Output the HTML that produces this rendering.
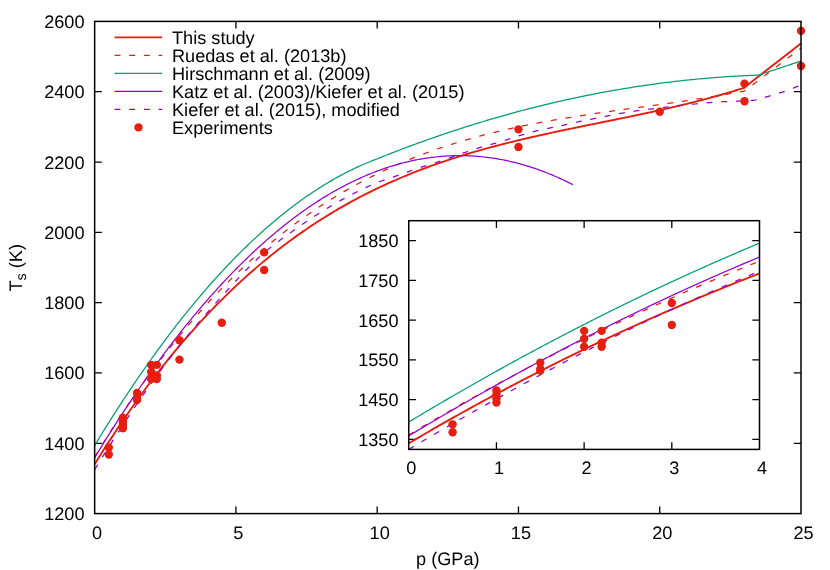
<!DOCTYPE html><html><head><meta charset="utf-8"><title>Solidus</title><style>html,body{margin:0;padding:0;background:#fff}svg{display:block;opacity:0.999;will-change:transform}text{text-rendering:geometricPrecision;font-family:"Liberation Sans",sans-serif;font-size:18.15px;fill:#000}</style></head><body>
<svg width="830" height="570" viewBox="0 0 830 570">
<rect width="830" height="570" fill="#fff"/>
<defs><clipPath id="cm"><rect x="94.65" y="21.40" width="706.35" height="492.20"/></clipPath>
<clipPath id="ci"><rect x="408.75" y="220.70" width="350.75" height="228.70"/></clipPath></defs>
<path d="M94.65,443.29 h7.2 M801.00,443.29 h-7.2 M94.65,372.97 h7.2 M801.00,372.97 h-7.2 M94.65,302.66 h7.2 M801.00,302.66 h-7.2 M94.65,232.34 h7.2 M801.00,232.34 h-7.2 M94.65,162.03 h7.2 M801.00,162.03 h-7.2 M94.65,91.71 h7.2 M801.00,91.71 h-7.2 M235.92,513.60 v-7.2 M235.92,21.40 v7.2 M377.19,513.60 v-7.2 M377.19,21.40 v7.2 M518.46,513.60 v-7.2 M518.46,21.40 v7.2 M659.73,513.60 v-7.2 M659.73,21.40 v7.2" stroke="#000" stroke-width="1.30" fill="none"/>
<text x="84.5" y="520.10" text-anchor="end">1200</text>
<text x="84.5" y="449.79" text-anchor="end">1400</text>
<text x="84.5" y="379.47" text-anchor="end">1600</text>
<text x="84.5" y="309.16" text-anchor="end">1800</text>
<text x="84.5" y="238.84" text-anchor="end">2000</text>
<text x="84.5" y="168.53" text-anchor="end">2200</text>
<text x="84.5" y="98.21" text-anchor="end">2400</text>
<text x="84.5" y="27.90" text-anchor="end">2600</text>
<text x="97.15" y="538.6" text-anchor="middle">0</text>
<text x="238.42" y="538.6" text-anchor="middle">5</text>
<text x="379.69" y="538.6" text-anchor="middle">10</text>
<text x="520.96" y="538.6" text-anchor="middle">15</text>
<text x="662.23" y="538.6" text-anchor="middle">20</text>
<text x="803.50" y="538.6" text-anchor="middle">25</text>
<text x="447.8" y="565.4" text-anchor="middle">p (GPa)</text>
<text transform="translate(21.9,267.8) rotate(-90)" text-anchor="middle">T<tspan font-size="14.4px" dy="4.4">s</tspan><tspan dy="-4.4"> (K)</tspan></text>
<g clip-path="url(#cm)" fill="none" stroke-linejoin="round">
<path d="M94.65,464.25 L96.42,461.38 L98.19,458.54 L99.96,455.71 L101.73,452.90 L103.50,450.11 L105.27,447.34 L107.04,444.58 L108.81,441.84 L110.58,439.11 L112.35,436.41 L114.12,433.72 L115.89,431.04 L117.66,428.39 L119.43,425.75 L121.20,423.13 L122.97,420.52 L124.75,417.93 L126.52,415.36 L128.29,412.81 L130.06,410.27 L131.83,407.74 L133.60,405.24 L135.37,402.75 L137.14,400.27 L138.91,397.81 L140.68,395.37 L142.45,392.94 L144.22,390.53 L145.99,388.14 L147.76,385.76 L149.53,383.40 L151.30,381.05 L153.07,378.72 L154.84,376.40 L156.61,374.10 L158.38,371.82 L160.15,369.55 L161.92,367.30 L163.69,365.06 L165.46,362.83 L167.23,360.62 L169.00,358.43 L170.77,356.25 L172.54,354.09 L174.31,351.94 L176.08,349.81 L177.85,347.69 L179.62,345.58 L181.39,343.49 L183.17,341.42 L184.94,339.36 L186.71,337.31 L188.48,335.28 L190.25,333.26 L192.02,331.26 L193.79,329.27 L195.56,327.29 L197.33,325.33 L199.10,323.39 L200.87,321.45 L202.64,319.54 L204.41,317.63 L206.18,315.74 L207.95,313.86 L209.72,312.00 L211.49,310.15 L213.26,308.31 L215.03,306.49 L216.80,304.68 L218.57,302.88 L220.34,301.10 L222.11,299.33 L223.88,297.57 L225.65,295.83 L227.42,294.10 L229.19,292.38 L230.96,290.67 L232.73,288.98 L234.50,287.30 L236.27,285.64 L238.04,283.98 L239.81,282.34 L241.58,280.71 L243.36,279.10 L245.13,277.49 L246.90,275.90 L248.67,274.32 L250.44,272.75 L252.21,271.20 L253.98,269.66 L255.75,268.13 L257.52,266.61 L259.29,265.10 L261.06,263.61 L262.83,262.12 L264.60,260.65 L266.37,259.19 L268.14,257.75 L269.91,256.31 L271.68,254.88 L273.45,253.47 L275.22,252.07 L276.99,250.68 L278.76,249.30 L280.53,247.93 L282.30,246.57 L284.07,245.23 L285.84,243.89 L287.61,242.57 L289.38,241.25 L291.15,239.95 L292.92,238.66 L294.69,237.38 L296.46,236.11 L298.23,234.85 L300.00,233.60 L301.78,232.36 L303.55,231.13 L305.32,229.91 L307.09,228.71 L308.86,227.51 L310.63,226.32 L312.40,225.14 L314.17,223.98 L315.94,222.82 L317.71,221.67 L319.48,220.53 L321.25,219.40 L323.02,218.29 L324.79,217.18 L326.56,216.08 L328.33,214.99 L330.10,213.91 L331.87,212.84 L333.64,211.78 L335.41,210.72 L337.18,209.68 L338.95,208.65 L340.72,207.62 L342.49,206.61 L344.26,205.60 L346.03,204.60 L347.80,203.61 L349.57,202.63 L351.34,201.66 L353.11,200.70 L354.88,199.74 L356.65,198.80 L358.42,197.86 L360.20,196.93 L361.97,196.01 L363.74,195.10 L365.51,194.20 L367.28,193.30 L369.05,192.41 L370.82,191.53 L372.59,190.66 L374.36,189.80 L376.13,188.94 L377.90,188.09 L379.67,187.25 L381.44,186.42 L383.21,185.60 L384.98,184.78 L386.75,183.97 L388.52,183.17 L390.29,182.37 L392.06,181.58 L393.83,180.80 L395.60,180.03 L397.37,179.26 L399.14,178.50 L400.91,177.75 L402.68,177.00 L404.45,176.27 L406.22,175.53 L407.99,174.81 L409.76,174.09 L411.53,173.38 L413.30,172.67 L415.07,171.98 L416.84,171.28 L418.62,170.60 L420.39,169.92 L422.16,169.24 L423.93,168.58 L425.70,167.92 L427.47,167.26 L429.24,166.61 L431.01,165.97 L432.78,165.33 L434.55,164.70 L436.32,164.08 L438.09,163.46 L439.86,162.84 L441.63,162.23 L443.40,161.63 L445.17,161.03 L446.94,160.44 L448.71,159.85 L450.48,159.27 L452.25,158.69 L454.02,158.12 L455.79,157.56 L457.56,157.00 L459.33,156.44 L461.10,155.89 L462.87,155.34 L464.64,154.80 L466.41,154.26 L468.18,153.73 L469.95,153.20 L471.72,152.68 L473.49,152.16 L475.26,151.64 L477.03,151.13 L478.81,150.63 L480.58,150.13 L482.35,149.63 L484.12,149.14 L485.89,148.65 L487.66,148.16 L489.43,147.68 L491.20,147.20 L492.97,146.73 L494.74,146.26 L496.51,145.79 L498.28,145.33 L500.05,144.87 L501.82,144.41 L503.59,143.96 L505.36,143.51 L507.13,143.07 L508.90,142.62 L510.67,142.18 L512.44,141.75 L514.21,141.31 L515.98,140.88 L517.75,140.46 L519.52,140.03 L521.29,139.61 L523.06,139.19 L524.83,138.77 L526.60,138.36 L528.37,137.95 L530.14,137.54 L531.91,137.13 L533.68,136.73 L535.45,136.33 L537.23,135.93 L539.00,135.53 L540.77,135.14 L542.54,134.74 L544.31,134.35 L546.08,133.96 L547.85,133.58 L549.62,133.19 L551.39,132.81 L553.16,132.43 L554.93,132.04 L556.70,131.67 L558.47,131.29 L560.24,130.91 L562.01,130.54 L563.78,130.16 L565.55,129.79 L567.32,129.42 L569.09,129.05 L570.86,128.68 L572.63,128.32 L574.40,127.95 L576.17,127.58 L577.94,127.22 L579.71,126.85 L581.48,126.49 L583.25,126.13 L585.02,125.77 L586.79,125.40 L588.56,125.04 L590.33,124.68 L592.10,124.32 L593.87,123.96 L595.65,123.60 L597.42,123.24 L599.19,122.88 L600.96,122.52 L602.73,122.16 L604.50,121.80 L606.27,121.44 L608.04,121.08 L609.81,120.72 L611.58,120.36 L613.35,120.00 L615.12,119.64 L616.89,119.27 L618.66,118.91 L620.43,118.55 L622.20,118.18 L623.97,117.82 L625.74,117.45 L627.51,117.08 L629.28,116.72 L631.05,116.35 L632.82,115.98 L634.59,115.61 L636.36,115.23 L638.13,114.86 L639.90,114.48 L641.67,114.11 L643.44,113.73 L645.21,113.35 L646.98,112.97 L648.75,112.59 L650.52,112.20 L652.29,111.82 L654.07,111.43 L655.84,111.04 L657.61,110.65 L659.38,110.25 L661.15,109.86 L662.92,109.46 L664.69,109.06 L666.46,108.66 L668.23,108.25 L670.00,107.84 L671.77,107.43 L673.54,107.02 L675.31,106.61 L677.08,106.19 L678.85,105.77 L680.62,105.35 L682.39,104.92 L684.16,104.49 L685.93,104.06 L687.70,103.63 L689.47,103.19 L691.24,102.75 L693.01,102.30 L694.78,101.86 L696.55,101.41 L698.32,100.95 L700.09,100.49 L701.86,100.03 L703.63,99.57 L705.40,99.10 L707.17,98.63 L708.94,98.15 L710.71,97.67 L712.48,97.19 L714.26,96.70 L716.03,96.21 L717.80,95.72 L719.57,95.22 L721.34,94.72 L723.11,94.21 L724.88,93.70 L726.65,93.18 L728.42,92.66 L730.19,92.13 L731.96,91.60 L733.73,91.07 L735.50,90.53 L737.27,89.99 L739.04,89.44 L740.81,88.89 L742.58,88.33 L744.35,87.76 L744.49,87.32 L746.12,86.05 L747.89,84.68 L749.66,83.30 L751.43,81.92 L753.20,80.55 L754.97,79.17 L756.74,77.79 L758.51,76.42 L760.28,75.04 L762.05,73.66 L763.82,72.29 L765.59,70.91 L767.36,69.53 L769.13,68.16 L770.90,66.78 L772.68,65.40 L774.45,64.02 L776.22,62.65 L777.99,61.27 L779.76,59.89 L781.53,58.52 L783.30,57.14 L785.07,55.76 L786.84,54.39 L788.61,53.01 L790.38,51.63 L792.15,50.26 L793.92,48.88 L795.69,47.50 L797.46,46.13 L799.23,44.75 L801.00,43.37" stroke="#e51e10" stroke-width="1.90"/>
<path d="M94.65,456.95 L96.42,454.04 L98.19,451.14 L99.96,448.25 L101.73,445.39 L103.50,442.54 L105.27,439.71 L107.04,436.89 L108.81,434.09 L110.58,431.31 L112.35,428.55 L114.12,425.80 L115.89,423.08 L117.66,420.36 L119.43,417.67 L121.20,414.99 L122.97,412.32 L124.75,409.68 L126.52,407.05 L128.29,404.44 L130.06,401.84 L131.83,399.26 L133.60,396.69 L135.37,394.15 L137.14,391.61 L138.91,389.10 L140.68,386.60 L142.45,384.12 L144.22,381.65 L145.99,379.20 L147.76,376.76 L149.53,374.34 L151.30,371.94 L153.07,369.55 L154.84,367.17 L156.61,364.82 L158.38,362.47 L160.15,360.15 L161.92,357.84 L163.69,355.54 L165.46,353.26 L167.23,350.99 L169.00,348.74 L170.77,346.51 L172.54,344.29 L174.31,342.08 L176.08,339.89 L177.85,337.72 L179.62,335.55 L181.39,333.41 L183.17,331.28 L184.94,329.16 L186.71,327.06 L188.48,324.97 L190.25,322.90 L192.02,320.84 L193.79,318.79 L195.56,316.76 L197.33,314.75 L199.10,312.75 L200.87,310.76 L202.64,308.79 L204.41,306.83 L206.18,304.88 L207.95,302.95 L209.72,301.03 L211.49,299.13 L213.26,297.24 L215.03,295.36 L216.80,293.50 L218.57,291.65 L220.34,289.81 L222.11,287.99 L223.88,286.18 L225.65,284.38 L227.42,282.60 L229.19,280.83 L230.96,279.07 L232.73,277.33 L234.50,275.60 L236.27,273.88 L238.04,272.18 L239.81,270.49 L241.58,268.81 L243.36,267.14 L245.13,265.49 L246.90,263.85 L248.67,262.22 L250.44,260.61 L252.21,259.00 L253.98,257.41 L255.75,255.83 L257.52,254.27 L259.29,252.72 L261.06,251.17 L262.83,249.64 L264.60,248.13 L266.37,246.62 L268.14,245.13 L269.91,243.65 L271.68,242.18 L273.45,240.72 L275.22,239.27 L276.99,237.84 L278.76,236.42 L280.53,235.00 L282.30,233.61 L284.07,232.22 L285.84,230.84 L287.61,229.47 L289.38,228.12 L291.15,226.78 L292.92,225.44 L294.69,224.12 L296.46,222.81 L298.23,221.51 L300.00,220.23 L301.78,218.95 L303.55,217.68 L305.32,216.43 L307.09,215.18 L308.86,213.95 L310.63,212.73 L312.40,211.51 L314.17,210.31 L315.94,209.12 L317.71,207.94 L319.48,206.76 L321.25,205.60 L323.02,204.45 L324.79,203.31 L326.56,202.18 L328.33,201.06 L330.10,199.95 L331.87,198.85 L333.64,197.76 L335.41,196.67 L337.18,195.60 L338.95,194.54 L340.72,193.49 L342.49,192.45 L344.26,191.41 L346.03,190.39 L347.80,189.37 L349.57,188.37 L351.34,187.37 L353.11,186.39 L354.88,185.41 L356.65,184.44 L358.42,183.48 L360.20,182.53 L361.97,181.59 L363.74,180.66 L365.51,179.73 L367.28,178.82 L369.05,177.91 L370.82,177.02 L372.59,176.13 L374.36,175.25 L376.13,174.37 L377.90,173.51 L379.67,172.66 L381.44,171.81 L383.21,170.97 L384.98,170.14 L386.75,169.32 L388.52,168.50 L390.29,167.70 L392.06,166.90 L393.83,166.11 L395.60,165.33 L397.37,164.55 L399.14,163.78 L400.91,163.02 L402.68,162.27 L404.45,161.53 L406.22,160.79 L407.99,160.06 L409.76,159.34 L411.53,158.63 L413.30,157.92 L415.07,157.22 L416.84,156.53 L418.62,155.84 L420.39,155.16 L422.16,154.49 L423.93,153.83 L425.70,153.17 L427.47,152.52 L429.24,151.88 L431.01,151.24 L432.78,150.61 L434.55,149.98 L436.32,149.37 L438.09,148.75 L439.86,148.15 L441.63,147.55 L443.40,146.96 L445.17,146.37 L446.94,145.80 L448.71,145.22 L450.48,144.65 L452.25,144.09 L454.02,143.54 L455.79,142.99 L457.56,142.45 L459.33,141.91 L461.10,141.38 L462.87,140.85 L464.64,140.33 L466.41,139.81 L468.18,139.31 L469.95,138.80 L471.72,138.30 L473.49,137.81 L475.26,137.32 L477.03,136.84 L478.81,136.36 L480.58,135.89 L482.35,135.42 L484.12,134.96 L485.89,134.50 L487.66,134.05 L489.43,133.60 L491.20,133.16 L492.97,132.72 L494.74,132.29 L496.51,131.86 L498.28,131.44 L500.05,131.02 L501.82,130.60 L503.59,130.19 L505.36,129.78 L507.13,129.38 L508.90,128.98 L510.67,128.59 L512.44,128.20 L514.21,127.81 L515.98,127.43 L517.75,127.06 L519.52,126.68 L521.29,126.31 L523.06,125.95 L524.83,125.58 L526.60,125.22 L528.37,124.87 L530.14,124.52 L531.91,124.17 L533.68,123.82 L535.45,123.48 L537.23,123.14 L539.00,122.81 L540.77,122.48 L542.54,122.15 L544.31,121.82 L546.08,121.50 L547.85,121.18 L549.62,120.87 L551.39,120.55 L553.16,120.24 L554.93,119.93 L556.70,119.63 L558.47,119.32 L560.24,119.02 L562.01,118.73 L563.78,118.43 L565.55,118.14 L567.32,117.85 L569.09,117.56 L570.86,117.27 L572.63,116.99 L574.40,116.71 L576.17,116.43 L577.94,116.15 L579.71,115.88 L581.48,115.60 L583.25,115.33 L585.02,115.06 L586.79,114.79 L588.56,114.53 L590.33,114.26 L592.10,114.00 L593.87,113.74 L595.65,113.48 L597.42,113.22 L599.19,112.96 L600.96,112.70 L602.73,112.45 L604.50,112.19 L606.27,111.94 L608.04,111.69 L609.81,111.44 L611.58,111.19 L613.35,110.94 L615.12,110.69 L616.89,110.44 L618.66,110.20 L620.43,109.95 L622.20,109.71 L623.97,109.46 L625.74,109.22 L627.51,108.97 L629.28,108.73 L631.05,108.49 L632.82,108.24 L634.59,108.00 L636.36,107.76 L638.13,107.51 L639.90,107.27 L641.67,107.03 L643.44,106.79 L645.21,106.55 L646.98,106.30 L648.75,106.06 L650.52,105.82 L652.29,105.57 L654.07,105.33 L655.84,105.08 L657.61,104.84 L659.38,104.59 L661.15,104.35 L662.92,104.10 L664.69,103.85 L666.46,103.60 L668.23,103.35 L670.00,103.10 L671.77,102.85 L673.54,102.60 L675.31,102.35 L677.08,102.09 L678.85,101.84 L680.62,101.58 L682.39,101.32 L684.16,101.06 L685.93,100.80 L687.70,100.54 L689.47,100.28 L691.24,100.01 L693.01,99.74 L694.78,99.48 L696.55,99.21 L698.32,98.93 L700.09,98.66 L701.86,98.38 L703.63,98.10 L705.40,97.82 L707.17,97.54 L708.94,97.26 L710.71,96.97 L712.48,96.68 L714.26,96.39 L716.03,96.10 L717.80,95.80 L719.57,95.50 L721.34,95.20 L723.11,94.90 L724.88,94.59 L726.65,94.29 L728.42,93.97 L730.19,93.66 L731.96,93.34 L733.73,93.02 L735.50,92.70 L737.27,92.37 L739.04,92.04 L740.81,91.71 L742.58,91.38 L744.35,91.04 L744.49,91.01 L746.12,89.77 L747.89,88.43 L749.66,87.09 L751.43,85.74 L753.20,84.40 L754.97,83.06 L756.74,81.71 L758.51,80.37 L760.28,79.03 L762.05,77.68 L763.82,76.34 L765.59,74.99 L767.36,73.65 L769.13,72.31 L770.90,70.96 L772.68,69.62 L774.45,68.28 L776.22,66.93 L777.99,65.59 L779.76,64.24 L781.53,62.90 L783.30,61.56 L785.07,60.21 L786.84,58.87 L788.61,57.53 L790.38,56.18 L792.15,54.84 L793.92,53.49 L795.69,52.15 L797.46,50.81 L799.23,49.46 L801.00,48.12" stroke="#e51e10" stroke-width="1.25" stroke-dasharray="5.9 8.8"/>
<path d="M94.65,445.46 L96.42,442.54 L98.19,439.63 L99.96,436.74 L101.73,433.86 L103.50,431.00 L105.27,428.15 L107.04,425.31 L108.81,422.49 L110.58,419.68 L112.35,416.89 L114.12,414.11 L115.89,411.35 L117.66,408.59 L119.43,405.86 L121.20,403.13 L122.97,400.43 L124.75,397.73 L126.52,395.05 L128.29,392.38 L130.06,389.73 L131.83,387.09 L133.60,384.47 L135.37,381.86 L137.14,379.26 L138.91,376.68 L140.68,374.11 L142.45,371.56 L144.22,369.02 L145.99,366.49 L147.76,363.98 L149.53,361.49 L151.30,359.00 L153.07,356.53 L154.84,354.08 L156.61,351.64 L158.38,349.21 L160.15,346.80 L161.92,344.40 L163.69,342.02 L165.46,339.65 L167.23,337.29 L169.00,334.95 L170.77,332.63 L172.54,330.31 L174.31,328.01 L176.08,325.73 L177.85,323.46 L179.62,321.20 L181.39,318.96 L183.17,316.73 L184.94,314.52 L186.71,312.32 L188.48,310.13 L190.25,307.96 L192.02,305.80 L193.79,303.66 L195.56,301.53 L197.33,299.42 L199.10,297.32 L200.87,295.23 L202.64,293.16 L204.41,291.10 L206.18,289.06 L207.95,287.03 L209.72,285.01 L211.49,283.01 L213.26,281.03 L215.03,279.05 L216.80,277.09 L218.57,275.15 L220.34,273.22 L222.11,271.30 L223.88,269.40 L225.65,267.52 L227.42,265.64 L229.19,263.78 L230.96,261.94 L232.73,260.11 L234.50,258.29 L236.27,256.49 L238.04,254.70 L239.81,252.93 L241.58,251.17 L243.36,249.42 L245.13,247.69 L246.90,245.98 L248.67,244.27 L250.44,242.59 L252.21,240.91 L253.98,239.25 L255.75,237.61 L257.52,235.98 L259.29,234.36 L261.06,232.76 L262.83,231.17 L264.60,229.59 L266.37,228.03 L268.14,226.49 L269.91,224.96 L271.68,223.44 L273.45,221.94 L275.22,220.45 L276.99,218.97 L278.76,217.51 L280.53,216.07 L282.30,214.64 L284.07,213.22 L285.84,211.82 L287.61,210.43 L289.38,209.05 L291.15,207.69 L292.92,206.35 L294.69,205.01 L296.46,203.70 L298.23,202.39 L300.00,201.11 L301.78,199.83 L303.55,198.57 L305.32,197.32 L307.09,196.09 L308.86,194.88 L310.63,193.67 L312.40,192.48 L314.17,191.31 L315.94,190.15 L317.71,189.00 L319.48,187.87 L321.25,186.75 L323.02,185.65 L324.79,184.56 L326.56,183.49 L328.33,182.43 L330.10,181.38 L331.87,180.35 L333.64,179.33 L335.41,178.33 L337.18,177.34 L338.95,176.37 L340.72,175.41 L342.49,174.46 L344.26,173.53 L346.03,172.62 L347.80,171.71 L349.57,170.83 L351.34,169.95 L353.11,169.09 L354.88,168.25 L356.65,167.42 L358.42,166.60 L360.20,165.80 L361.97,165.01 L363.74,164.24 L365.51,163.48 L367.28,162.73 L369.05,162.00 L370.82,161.29 L372.59,160.59 L374.36,159.90 L376.13,159.23 L377.19,158.83 L377.90,158.54 L379.67,157.83 L381.44,157.13 L383.21,156.42 L384.98,155.72 L386.75,155.02 L388.52,154.32 L390.29,153.63 L392.06,152.94 L393.83,152.26 L395.60,151.57 L397.37,150.89 L399.14,150.21 L400.91,149.54 L402.68,148.87 L404.45,148.20 L406.22,147.53 L407.99,146.87 L409.76,146.21 L411.53,145.55 L413.30,144.90 L415.07,144.25 L416.84,143.60 L418.62,142.96 L420.39,142.32 L422.16,141.68 L423.93,141.04 L425.70,140.41 L427.47,139.78 L429.24,139.15 L431.01,138.53 L432.78,137.91 L434.55,137.29 L436.32,136.68 L438.09,136.07 L439.86,135.46 L441.63,134.85 L443.40,134.25 L445.17,133.65 L446.94,133.06 L448.71,132.46 L450.48,131.87 L452.25,131.29 L454.02,130.70 L455.79,130.12 L457.56,129.54 L459.33,128.97 L461.10,128.40 L462.87,127.83 L464.64,127.26 L466.41,126.70 L468.18,126.14 L469.95,125.58 L471.72,125.03 L473.49,124.48 L475.26,123.93 L477.03,123.38 L478.81,122.84 L480.58,122.30 L482.35,121.77 L484.12,121.23 L485.89,120.70 L487.66,120.18 L489.43,119.65 L491.20,119.13 L492.97,118.61 L494.74,118.10 L496.51,117.59 L498.28,117.08 L500.05,116.57 L501.82,116.07 L503.59,115.57 L505.36,115.07 L507.13,114.58 L508.90,114.09 L510.67,113.60 L512.44,113.12 L514.21,112.63 L515.98,112.15 L517.75,111.68 L519.52,111.21 L521.29,110.74 L523.06,110.27 L524.83,109.81 L526.60,109.35 L528.37,108.89 L530.14,108.43 L531.91,107.98 L533.68,107.53 L535.45,107.09 L537.23,106.65 L539.00,106.21 L540.77,105.77 L542.54,105.34 L544.31,104.91 L546.08,104.48 L547.85,104.05 L549.62,103.63 L551.39,103.21 L553.16,102.80 L554.93,102.39 L556.70,101.98 L558.47,101.57 L560.24,101.17 L562.01,100.77 L563.78,100.37 L565.55,99.98 L567.32,99.58 L569.09,99.20 L570.86,98.81 L572.63,98.43 L574.40,98.05 L576.17,97.67 L577.94,97.30 L579.71,96.93 L581.48,96.56 L583.25,96.20 L585.02,95.84 L586.79,95.48 L588.56,95.12 L590.33,94.77 L592.10,94.42 L593.87,94.08 L595.65,93.73 L597.42,93.39 L599.19,93.06 L600.96,92.72 L602.73,92.39 L604.50,92.06 L606.27,91.74 L608.04,91.42 L609.81,91.10 L611.58,90.78 L613.35,90.47 L615.12,90.16 L616.89,89.85 L618.66,89.55 L620.43,89.25 L622.20,88.95 L623.97,88.66 L625.74,88.36 L627.51,88.08 L629.28,87.79 L631.05,87.51 L632.82,87.23 L634.59,86.95 L636.36,86.68 L638.13,86.41 L639.90,86.14 L641.67,85.87 L643.44,85.61 L645.21,85.35 L646.98,85.10 L648.75,84.85 L650.52,84.60 L652.29,84.35 L654.07,84.11 L655.84,83.87 L657.61,83.63 L659.38,83.39 L661.15,83.16 L662.92,82.93 L664.69,82.71 L666.46,82.49 L668.23,82.27 L670.00,82.05 L671.77,81.84 L673.54,81.63 L675.31,81.42 L677.08,81.21 L678.85,81.01 L680.62,80.81 L682.39,80.62 L684.16,80.43 L685.93,80.24 L687.70,80.05 L689.47,79.87 L691.24,79.69 L693.01,79.51 L694.78,79.34 L696.55,79.16 L698.32,79.00 L700.09,78.83 L701.86,78.67 L703.63,78.51 L705.40,78.35 L707.17,78.20 L708.94,78.05 L710.71,77.90 L712.48,77.76 L714.26,77.62 L716.03,77.48 L717.80,77.35 L719.57,77.21 L721.34,77.08 L723.11,76.96 L724.88,76.84 L726.65,76.72 L728.42,76.60 L730.19,76.48 L731.96,76.37 L733.73,76.27 L735.50,76.16 L737.27,76.06 L739.04,75.96 L740.81,75.86 L742.58,75.77 L744.35,75.68 L746.12,75.59 L747.89,75.51 L749.66,75.43 L751.43,75.35 L753.20,75.28 L754.97,75.21 L756.74,75.14 L758.51,75.07 L758.62,75.03 L760.28,74.48 L762.05,73.90 L763.82,73.31 L765.59,72.73 L767.36,72.15 L769.13,71.56 L770.90,70.98 L772.68,70.39 L774.45,69.81 L776.22,69.22 L777.99,68.64 L779.76,68.05 L781.53,67.47 L783.30,66.89 L785.07,66.30 L786.84,65.72 L788.61,65.13 L790.38,64.55 L792.15,63.96 L793.92,63.38 L795.69,62.79 L797.46,62.21 L799.23,61.63 L801.00,61.04" stroke="#009e73" stroke-width="1.25"/>
<path d="M94.65,457.70 L95.85,455.72 L97.05,453.75 L98.25,451.78 L99.45,449.82 L100.64,447.86 L101.84,445.91 L103.04,443.97 L104.24,442.04 L105.44,440.11 L106.64,438.19 L107.84,436.27 L109.04,434.36 L110.24,432.46 L111.43,430.56 L112.63,428.67 L113.83,426.79 L115.03,424.91 L116.23,423.04 L117.43,421.18 L118.63,419.32 L119.83,417.47 L121.02,415.63 L122.22,413.79 L123.42,411.96 L124.62,410.14 L125.82,408.32 L127.02,406.51 L128.22,404.70 L129.42,402.90 L130.62,401.11 L131.81,399.33 L133.01,397.55 L134.21,395.77 L135.41,394.01 L136.61,392.25 L137.81,390.50 L139.01,388.75 L140.21,387.01 L141.41,385.28 L142.60,383.55 L143.80,381.83 L145.00,380.12 L146.20,378.41 L147.40,376.71 L148.60,375.02 L149.80,373.33 L151.00,371.65 L152.19,369.97 L153.39,368.30 L154.59,366.64 L155.79,364.99 L156.99,363.34 L158.19,361.70 L159.39,360.06 L160.59,358.43 L161.79,356.81 L162.98,355.20 L164.18,353.59 L165.38,351.98 L166.58,350.39 L167.78,348.80 L168.98,347.21 L170.18,345.64 L171.38,344.07 L172.58,342.50 L173.77,340.95 L174.97,339.39 L176.17,337.85 L177.37,336.31 L178.57,334.78 L179.77,333.26 L180.97,331.74 L182.17,330.23 L183.36,328.72 L184.56,327.22 L185.76,325.73 L186.96,324.25 L188.16,322.77 L189.36,321.29 L190.56,319.83 L191.76,318.37 L192.96,316.92 L194.15,315.47 L195.35,314.03 L196.55,312.60 L197.75,311.17 L198.95,309.75 L200.15,308.33 L201.35,306.93 L202.55,305.53 L203.75,304.13 L204.94,302.74 L206.14,301.36 L207.34,299.99 L208.54,298.62 L209.74,297.26 L210.94,295.90 L212.14,294.55 L213.34,293.21 L214.53,291.88 L215.73,290.55 L216.93,289.22 L218.13,287.91 L219.33,286.60 L220.53,285.29 L221.73,284.00 L222.93,282.71 L224.13,281.42 L225.32,280.15 L226.52,278.88 L227.72,277.61 L228.92,276.36 L230.12,275.10 L231.32,273.86 L232.52,272.62 L233.72,271.39 L234.92,270.17 L236.11,268.95 L237.31,267.73 L238.51,266.53 L239.71,265.33 L240.91,264.14 L242.11,262.95 L243.31,261.77 L244.51,260.60 L245.70,259.43 L246.90,258.27 L248.10,257.12 L249.30,255.97 L250.50,254.83 L251.70,253.70 L252.90,252.57 L254.10,251.45 L255.30,250.34 L256.49,249.23 L257.69,248.13 L258.89,247.03 L260.09,245.95 L261.29,244.86 L262.49,243.79 L263.69,242.72 L264.89,241.66 L266.09,240.60 L267.28,239.55 L268.48,238.51 L269.68,237.48 L270.88,236.45 L272.08,235.42 L273.28,234.41 L274.48,233.40 L275.68,232.39 L276.87,231.40 L278.07,230.41 L279.27,229.42 L280.47,228.45 L281.67,227.47 L282.87,226.51 L284.07,225.55 L285.27,224.60 L286.47,223.66 L287.66,222.72 L288.86,221.79 L290.06,220.86 L291.26,219.94 L292.46,219.03 L293.66,218.12 L294.86,217.23 L296.06,216.33 L297.26,215.45 L298.45,214.57 L299.65,213.69 L300.85,212.83 L302.05,211.97 L303.25,211.11 L304.45,210.27 L305.65,209.43 L306.85,208.59 L308.04,207.76 L309.24,206.94 L310.44,206.13 L311.64,205.32 L312.84,204.52 L314.04,203.73 L315.24,202.94 L316.44,202.15 L317.64,201.38 L318.83,200.61 L320.03,199.85 L321.23,199.09 L322.43,198.34 L323.63,197.60 L324.83,196.86 L326.03,196.13 L327.23,195.41 L328.43,194.69 L329.62,193.98 L330.82,193.28 L332.02,192.58 L333.22,191.89 L334.42,191.21 L335.62,190.53 L336.82,189.86 L338.02,189.20 L339.21,188.54 L340.41,187.89 L341.61,187.24 L342.81,186.60 L344.01,185.97 L345.21,185.34 L346.41,184.73 L347.61,184.11 L348.81,183.51 L350.00,182.91 L351.20,182.31 L352.40,181.73 L353.60,181.15 L354.80,180.58 L356.00,180.01 L357.20,179.45 L358.40,178.89 L359.60,178.35 L360.79,177.81 L361.99,177.27 L363.19,176.74 L364.39,176.22 L365.59,175.71 L366.79,175.20 L367.99,174.70 L369.19,174.20 L370.38,173.71 L371.58,173.23 L372.78,172.76 L373.98,172.29 L375.18,171.82 L376.38,171.37 L377.58,170.92 L378.78,170.48 L379.98,170.04 L381.17,169.61 L382.37,169.19 L383.57,168.77 L384.77,168.36 L385.97,167.95 L387.17,167.56 L388.37,167.17 L389.57,166.78 L390.77,166.40 L391.96,166.03 L393.16,165.67 L394.36,165.31 L395.56,164.96 L396.76,164.61 L397.96,164.27 L399.16,163.94 L400.36,163.62 L401.56,163.30 L402.75,162.98 L403.95,162.68 L405.15,162.38 L406.35,162.08 L407.55,161.80 L408.75,161.52 L409.95,161.24 L411.15,160.98 L412.34,160.72 L413.54,160.46 L414.74,160.21 L415.94,159.97 L417.14,159.74 L418.34,159.51 L419.54,159.29 L420.74,159.07 L421.94,158.87 L423.13,158.66 L424.33,158.47 L425.53,158.28 L426.73,158.10 L427.93,157.92 L429.13,157.75 L430.33,157.59 L431.53,157.43 L432.73,157.28 L433.92,157.14 L435.12,157.00 L436.32,156.87 L437.52,156.75 L438.72,156.63 L439.92,156.52 L441.12,156.42 L442.32,156.32 L443.51,156.23 L444.71,156.14 L445.91,156.06 L447.11,155.99 L448.31,155.93 L449.51,155.87 L450.71,155.82 L451.91,155.77 L453.11,155.73 L454.30,155.70 L455.50,155.67 L456.70,155.65 L457.90,155.64 L459.10,155.63 L460.30,155.63 L461.50,155.64 L462.70,155.65 L463.90,155.67 L465.09,155.70 L466.29,155.73 L467.49,155.77 L468.69,155.82 L469.89,155.87 L471.09,155.93 L472.29,155.99 L473.49,156.06 L474.68,156.14 L475.88,156.23 L477.08,156.32 L478.28,156.42 L479.48,156.52 L480.68,156.63 L481.88,156.75 L483.08,156.87 L484.28,157.00 L485.47,157.14 L486.67,157.28 L487.87,157.43 L489.07,157.59 L490.27,157.75 L491.47,157.92 L492.67,158.10 L493.87,158.28 L495.07,158.47 L496.26,158.66 L497.46,158.87 L498.66,159.08 L499.86,159.29 L501.06,159.51 L502.26,159.74 L503.46,159.97 L504.66,160.22 L505.85,160.46 L507.05,160.72 L508.25,160.98 L509.45,161.25 L510.65,161.52 L511.85,161.80 L513.05,162.09 L514.25,162.38 L515.45,162.68 L516.64,162.98 L517.84,163.30 L519.04,163.62 L520.24,163.94 L521.44,164.28 L522.64,164.61 L523.84,164.96 L525.04,165.31 L526.24,165.67 L527.43,166.03 L528.63,166.41 L529.83,166.78 L531.03,167.17 L532.23,167.56 L533.43,167.96 L534.63,168.36 L535.83,168.77 L537.02,169.19 L538.22,169.61 L539.42,170.04 L540.62,170.48 L541.82,170.92 L543.02,171.37 L544.22,171.83 L545.42,172.29 L546.62,172.76 L547.81,173.23 L549.01,173.72 L550.21,174.21 L551.41,174.70 L552.61,175.20 L553.81,175.71 L555.01,176.23 L556.21,176.75 L557.41,177.27 L558.60,177.81 L559.80,178.35 L561.00,178.90 L562.20,179.45 L563.40,180.01 L564.60,180.58 L565.80,181.15 L567.00,181.73 L568.19,182.32 L569.39,182.91 L570.59,183.51 L571.79,184.12 L572.99,184.73" stroke="#9400d3" stroke-width="1.25"/>
<path d="M94.65,469.65 L96.42,466.76 L98.19,463.88 L99.96,461.02 L101.73,458.16 L103.50,455.32 L105.27,452.49 L107.04,449.67 L108.81,446.87 L110.58,444.08 L112.35,441.30 L114.12,438.53 L115.89,435.78 L117.66,433.04 L119.43,430.31 L121.20,427.60 L122.97,424.90 L124.75,422.21 L126.52,419.52 L128.29,416.85 L130.06,414.19 L131.83,411.54 L133.60,408.90 L135.37,406.27 L137.14,403.66 L138.91,401.06 L140.68,398.48 L142.45,395.91 L144.22,393.36 L145.99,390.82 L147.76,388.30 L149.53,385.80 L151.30,383.32 L153.07,380.86 L154.84,378.40 L156.61,375.96 L158.38,373.53 L160.15,371.12 L161.92,368.71 L163.69,366.33 L165.46,363.96 L167.23,361.60 L169.00,359.27 L170.77,356.95 L172.54,354.65 L174.31,352.36 L176.08,350.10 L177.85,347.86 L179.62,345.63 L181.39,343.43 L183.17,341.24 L184.94,339.05 L186.71,336.89 L188.48,334.73 L190.25,332.59 L192.02,330.46 L193.79,328.34 L195.56,326.23 L197.33,324.13 L199.10,322.05 L200.87,319.98 L202.64,317.92 L204.41,315.87 L206.18,313.83 L207.95,311.80 L209.72,309.79 L211.49,307.78 L213.26,305.79 L215.03,303.81 L216.80,301.83 L218.57,299.87 L220.34,297.92 L222.11,295.98 L223.88,294.04 L225.65,292.10 L227.42,290.15 L229.19,288.21 L230.96,286.27 L232.73,284.33 L234.50,282.41 L236.27,280.49 L238.04,278.57 L239.81,276.68 L241.58,274.79 L243.36,272.92 L245.13,271.07 L246.90,269.24 L248.67,267.43 L250.44,265.64 L252.21,263.87 L253.98,262.14 L255.75,260.43 L257.52,258.75 L259.29,257.10 L261.06,255.49 L262.83,253.91 L264.60,252.37 L266.37,250.86 L268.14,249.39 L269.91,247.95 L271.68,246.54 L273.45,245.16 L275.22,243.79 L276.99,242.45 L278.76,241.13 L280.53,239.83 L282.30,238.54 L284.07,237.25 L285.84,235.98 L287.61,234.72 L289.38,233.46 L291.15,232.20 L292.92,230.94 L294.69,229.68 L296.46,228.43 L298.23,227.19 L300.00,225.96 L301.78,224.73 L303.55,223.52 L305.32,222.31 L307.09,221.12 L308.86,219.93 L310.63,218.76 L312.40,217.59 L314.17,216.44 L315.94,215.30 L317.71,214.17 L319.48,213.05 L321.25,211.95 L323.02,210.86 L324.79,209.77 L326.56,208.69 L328.33,207.61 L330.10,206.55 L331.87,205.50 L333.64,204.45 L335.41,203.42 L337.18,202.40 L338.95,201.39 L340.72,200.39 L342.49,199.41 L344.26,198.44 L346.03,197.49 L347.80,196.55 L349.57,195.62 L351.34,194.71 L353.11,193.80 L354.88,192.89 L356.65,191.99 L358.42,191.11 L360.20,190.23 L361.97,189.37 L363.74,188.52 L365.51,187.68 L367.28,186.86 L369.05,186.05 L370.82,185.26 L372.59,184.50 L374.36,183.75 L376.13,183.02 L377.90,182.32 L379.67,181.64 L381.44,180.99 L383.21,180.37 L384.98,179.76 L386.75,179.16 L388.52,178.57 L390.29,177.99 L392.06,177.40 L393.83,176.81 L395.60,176.21 L397.37,175.60 L399.14,174.97 L400.91,174.34 L402.68,173.71 L404.45,173.07 L406.22,172.44 L407.99,171.80 L409.76,171.16 L411.53,170.53 L413.30,169.90 L415.07,169.28 L416.84,168.67 L418.62,168.07 L420.39,167.48 L422.16,166.90 L423.93,166.34 L425.70,165.78 L427.47,165.23 L429.24,164.69 L431.01,164.15 L432.78,163.60 L434.55,163.05 L436.32,162.50 L438.09,161.93 L439.86,161.34 L441.63,160.74 L443.40,160.13 L445.17,159.51 L446.94,158.87 L448.71,158.23 L450.48,157.59 L452.25,156.94 L454.02,156.30 L455.79,155.66 L457.56,155.04 L459.33,154.42 L461.10,153.81 L462.87,153.20 L464.64,152.59 L466.41,151.98 L468.18,151.38 L469.95,150.78 L471.72,150.18 L473.49,149.60 L475.26,149.02 L477.03,148.46 L478.81,147.90 L480.58,147.37 L482.35,146.85 L484.12,146.34 L485.89,145.85 L487.66,145.36 L489.43,144.88 L491.20,144.41 L492.97,143.93 L494.74,143.44 L496.51,142.95 L498.28,142.44 L500.05,141.92 L501.82,141.38 L503.59,140.82 L505.36,140.25 L507.13,139.66 L508.90,139.08 L510.67,138.49 L512.44,137.90 L514.21,137.32 L515.98,136.75 L517.75,136.20 L519.52,135.66 L521.29,135.13 L523.06,134.61 L524.83,134.09 L526.60,133.58 L528.37,133.07 L530.14,132.57 L531.91,132.08 L533.68,131.60 L535.45,131.14 L537.23,130.69 L539.00,130.26 L540.77,129.84 L542.54,129.45 L544.31,129.07 L546.08,128.71 L547.85,128.36 L549.62,128.02 L551.39,127.67 L553.16,127.33 L554.93,126.99 L556.70,126.64 L558.47,126.28 L560.24,125.90 L562.01,125.52 L563.78,125.12 L565.55,124.71 L567.32,124.30 L569.09,123.88 L570.86,123.47 L572.63,123.05 L574.40,122.64 L576.17,122.24 L577.94,121.85 L579.71,121.47 L581.48,121.10 L583.25,120.75 L585.02,120.40 L586.79,120.05 L588.56,119.71 L590.33,119.38 L592.10,119.04 L593.87,118.70 L595.65,118.37 L597.42,118.03 L599.19,117.68 L600.96,117.33 L602.73,116.97 L604.50,116.60 L606.27,116.23 L608.04,115.86 L609.81,115.49 L611.58,115.12 L613.35,114.76 L615.12,114.41 L616.89,114.06 L618.66,113.73 L620.43,113.42 L622.20,113.11 L623.97,112.80 L625.74,112.51 L627.51,112.22 L629.28,111.93 L631.05,111.65 L632.82,111.38 L634.59,111.11 L636.36,110.85 L638.13,110.60 L639.90,110.35 L641.67,110.12 L643.44,109.89 L645.21,109.67 L646.98,109.45 L648.75,109.24 L650.52,109.03 L652.29,108.83 L654.07,108.62 L655.84,108.42 L657.61,108.21 L659.38,108.00 L661.15,107.79 L662.92,107.57 L664.69,107.35 L666.46,107.14 L668.23,106.92 L670.00,106.71 L671.77,106.49 L673.54,106.28 L675.31,106.07 L677.08,105.87 L678.85,105.67 L680.62,105.47 L682.39,105.28 L684.16,105.09 L685.93,104.90 L687.70,104.71 L689.47,104.53 L691.24,104.35 L693.01,104.17 L694.78,104.00 L696.55,103.83 L698.32,103.67 L700.09,103.51 L701.86,103.35 L703.63,103.19 L705.40,103.03 L707.17,102.87 L708.94,102.71 L710.71,102.57 L712.48,102.42 L714.26,102.29 L716.03,102.16 L717.80,102.04 L719.57,101.93 L721.34,101.83 L723.11,101.74 L724.88,101.66 L726.65,101.58 L728.42,101.51 L730.19,101.44 L731.96,101.38 L733.73,101.31 L735.50,101.25 L737.27,101.18 L739.04,101.11 L740.81,101.03 L742.58,100.95 L744.35,100.86 L746.12,100.77 L747.89,100.68 L749.66,100.58 L751.43,100.46 L753.20,100.30 L754.97,100.04 L756.74,99.65 L758.51,99.17 L760.28,98.64 L762.05,98.11 L763.82,97.60 L765.59,97.11 L767.36,96.62 L769.13,96.13 L770.90,95.62 L772.68,95.11 L774.45,94.59 L776.22,94.06 L777.99,93.51 L779.76,92.95 L781.53,92.38 L783.30,91.79 L785.07,91.19 L786.84,90.56 L788.61,89.92 L790.38,89.26 L792.15,88.57 L793.92,87.87 L795.69,87.16 L797.46,86.43 L799.23,85.69 L801.00,84.93" stroke="#9400d3" stroke-width="1.25" stroke-dasharray="5.9 8.8"/>
</g>
<circle cx="108.78" cy="447.50" r="4.2" fill="#e51e10"/>
<circle cx="108.78" cy="454.54" r="4.2" fill="#e51e10"/>
<circle cx="122.90" cy="417.62" r="4.2" fill="#e51e10"/>
<circle cx="122.90" cy="421.14" r="4.2" fill="#e51e10"/>
<circle cx="122.90" cy="424.65" r="4.2" fill="#e51e10"/>
<circle cx="122.90" cy="428.17" r="4.2" fill="#e51e10"/>
<circle cx="137.03" cy="393.01" r="4.2" fill="#e51e10"/>
<circle cx="137.03" cy="398.64" r="4.2" fill="#e51e10"/>
<circle cx="137.03" cy="400.04" r="4.2" fill="#e51e10"/>
<circle cx="151.16" cy="364.89" r="4.2" fill="#e51e10"/>
<circle cx="151.16" cy="371.92" r="4.2" fill="#e51e10"/>
<circle cx="151.16" cy="378.95" r="4.2" fill="#e51e10"/>
<circle cx="156.81" cy="364.89" r="4.2" fill="#e51e10"/>
<circle cx="156.81" cy="375.43" r="4.2" fill="#e51e10"/>
<circle cx="156.81" cy="378.95" r="4.2" fill="#e51e10"/>
<circle cx="179.41" cy="340.28" r="4.2" fill="#e51e10"/>
<circle cx="179.41" cy="359.61" r="4.2" fill="#e51e10"/>
<circle cx="221.79" cy="322.70" r="4.2" fill="#e51e10"/>
<circle cx="264.17" cy="252.38" r="4.2" fill="#e51e10"/>
<circle cx="264.17" cy="269.96" r="4.2" fill="#e51e10"/>
<circle cx="518.46" cy="129.33" r="4.2" fill="#e51e10"/>
<circle cx="518.46" cy="146.91" r="4.2" fill="#e51e10"/>
<circle cx="659.73" cy="111.75" r="4.2" fill="#e51e10"/>
<circle cx="744.49" cy="83.63" r="4.2" fill="#e51e10"/>
<circle cx="744.49" cy="101.21" r="4.2" fill="#e51e10"/>
<circle cx="801.00" cy="30.89" r="4.2" fill="#e51e10"/>
<circle cx="801.00" cy="66.05" r="4.2" fill="#e51e10"/>
<rect x="94.65" y="21.40" width="706.35" height="492.20" fill="none" stroke="#000" stroke-width="1.5"/>
<path d="M114.50,37.40 H162.20" stroke="#e51e10" stroke-width="1.90" fill="none"/>
<path d="M114.50,55.40 H162.20" stroke="#e51e10" stroke-width="1.25" fill="none" stroke-dasharray="5.9 8.8"/>
<path d="M114.50,73.40 H162.20" stroke="#009e73" stroke-width="1.25" fill="none"/>
<path d="M114.50,91.40 H162.20" stroke="#9400d3" stroke-width="1.25" fill="none"/>
<path d="M114.50,109.40 H162.20" stroke="#9400d3" stroke-width="1.25" fill="none" stroke-dasharray="5.9 8.8"/>
<circle cx="138.5" cy="127.40" r="4.2" fill="#e51e10"/>
<text x="172.0" y="43.80" font-size="18.08px">This study</text>
<text x="172.0" y="61.80" font-size="18.08px">Ruedas et al. (2013b)</text>
<text x="172.0" y="79.80" font-size="18.08px">Hirschmann et al. (2009)</text>
<text x="172.0" y="97.80" font-size="18.08px">Katz et al. (2003)/Kiefer et al. (2015)</text>
<text x="172.0" y="115.80" font-size="18.08px">Kiefer et al. (2015), modified</text>
<text x="172.0" y="133.80" font-size="18.08px">Experiments</text>
<rect x="408.75" y="220.70" width="350.75" height="228.70" fill="#fff"/>
<path d="M408.75,439.46 h7.2 M759.50,439.46 h-7.2 M408.75,399.68 h7.2 M759.50,399.68 h-7.2 M408.75,359.91 h7.2 M759.50,359.91 h-7.2 M408.75,320.13 h7.2 M759.50,320.13 h-7.2 M408.75,280.36 h7.2 M759.50,280.36 h-7.2 M408.75,240.59 h7.2 M759.50,240.59 h-7.2 M496.44,449.40 v-7.2 M496.44,220.70 v7.2 M584.12,449.40 v-7.2 M584.12,220.70 v7.2 M671.81,449.40 v-7.2 M671.81,220.70 v7.2" stroke="#000" stroke-width="1.30" fill="none"/>
<text x="398.5" y="445.96" text-anchor="end">1350</text>
<text x="398.5" y="406.18" text-anchor="end">1450</text>
<text x="398.5" y="366.41" text-anchor="end">1550</text>
<text x="398.5" y="326.63" text-anchor="end">1650</text>
<text x="398.5" y="286.86" text-anchor="end">1750</text>
<text x="398.5" y="247.09" text-anchor="end">1850</text>
<text x="411.25" y="474.3" text-anchor="middle">0</text>
<text x="498.94" y="474.3" text-anchor="middle">1</text>
<text x="586.62" y="474.3" text-anchor="middle">2</text>
<text x="674.31" y="474.3" text-anchor="middle">3</text>
<text x="762.00" y="474.3" text-anchor="middle">4</text>
<g clip-path="url(#ci)" fill="none" stroke-linejoin="round">
<path d="M408.75,443.28 L409.63,442.76 L410.51,442.24 L411.39,441.73 L412.27,441.21 L413.15,440.69 L414.02,440.17 L414.90,439.66 L415.78,439.14 L416.66,438.63 L417.54,438.11 L418.42,437.60 L419.30,437.08 L420.18,436.57 L421.06,436.06 L421.94,435.54 L422.82,435.03 L423.69,434.52 L424.57,434.01 L425.45,433.50 L426.33,432.99 L427.21,432.48 L428.09,431.97 L428.97,431.46 L429.85,430.96 L430.73,430.45 L431.61,429.94 L432.48,429.44 L433.36,428.93 L434.24,428.43 L435.12,427.92 L436.00,427.42 L436.88,426.91 L437.76,426.41 L438.64,425.91 L439.52,425.40 L440.40,424.90 L441.28,424.40 L442.15,423.90 L443.03,423.40 L443.91,422.90 L444.79,422.40 L445.67,421.90 L446.55,421.40 L447.43,420.91 L448.31,420.41 L449.19,419.91 L450.07,419.42 L450.95,418.92 L451.82,418.43 L452.70,417.93 L453.58,417.44 L454.46,416.94 L455.34,416.45 L456.22,415.96 L457.10,415.46 L457.98,414.97 L458.86,414.48 L459.74,413.99 L460.62,413.50 L461.49,413.01 L462.37,412.52 L463.25,412.03 L464.13,411.54 L465.01,411.06 L465.89,410.57 L466.77,410.08 L467.65,409.59 L468.53,409.11 L469.41,408.62 L470.29,408.14 L471.16,407.65 L472.04,407.17 L472.92,406.69 L473.80,406.20 L474.68,405.72 L475.56,405.24 L476.44,404.76 L477.32,404.28 L478.20,403.80 L479.08,403.32 L479.95,402.84 L480.83,402.36 L481.71,401.88 L482.59,401.40 L483.47,400.92 L484.35,400.45 L485.23,399.97 L486.11,399.49 L486.99,399.02 L487.87,398.54 L488.75,398.07 L489.62,397.59 L490.50,397.12 L491.38,396.65 L492.26,396.17 L493.14,395.70 L494.02,395.23 L494.90,394.76 L495.78,394.29 L496.66,393.82 L497.54,393.35 L498.42,392.88 L499.29,392.41 L500.17,391.94 L501.05,391.47 L501.93,391.00 L502.81,390.54 L503.69,390.07 L504.57,389.61 L505.45,389.14 L506.33,388.67 L507.21,388.21 L508.09,387.75 L508.96,387.28 L509.84,386.82 L510.72,386.36 L511.60,385.89 L512.48,385.43 L513.36,384.97 L514.24,384.51 L515.12,384.05 L516.00,383.59 L516.88,383.13 L517.76,382.67 L518.63,382.21 L519.51,381.76 L520.39,381.30 L521.27,380.84 L522.15,380.38 L523.03,379.93 L523.91,379.47 L524.79,379.02 L525.67,378.56 L526.55,378.11 L527.42,377.66 L528.30,377.20 L529.18,376.75 L530.06,376.30 L530.94,375.85 L531.82,375.39 L532.70,374.94 L533.58,374.49 L534.46,374.04 L535.34,373.59 L536.22,373.14 L537.09,372.70 L537.97,372.25 L538.85,371.80 L539.73,371.35 L540.61,370.91 L541.49,370.46 L542.37,370.01 L543.25,369.57 L544.13,369.12 L545.01,368.68 L545.89,368.24 L546.76,367.79 L547.64,367.35 L548.52,366.91 L549.40,366.47 L550.28,366.02 L551.16,365.58 L552.04,365.14 L552.92,364.70 L553.80,364.26 L554.68,363.82 L555.56,363.38 L556.43,362.95 L557.31,362.51 L558.19,362.07 L559.07,361.63 L559.95,361.20 L560.83,360.76 L561.71,360.33 L562.59,359.89 L563.47,359.46 L564.35,359.02 L565.22,358.59 L566.10,358.16 L566.98,357.72 L567.86,357.29 L568.74,356.86 L569.62,356.43 L570.50,356.00 L571.38,355.57 L572.26,355.14 L573.14,354.71 L574.02,354.28 L574.89,353.85 L575.77,353.42 L576.65,352.99 L577.53,352.57 L578.41,352.14 L579.29,351.71 L580.17,351.29 L581.05,350.86 L581.93,350.44 L582.81,350.01 L583.69,349.59 L584.56,349.16 L585.44,348.74 L586.32,348.32 L587.20,347.90 L588.08,347.47 L588.96,347.05 L589.84,346.63 L590.72,346.21 L591.60,345.79 L592.48,345.37 L593.36,344.95 L594.23,344.53 L595.11,344.11 L595.99,343.70 L596.87,343.28 L597.75,342.86 L598.63,342.45 L599.51,342.03 L600.39,341.61 L601.27,341.20 L602.15,340.79 L603.03,340.37 L603.90,339.96 L604.78,339.54 L605.66,339.13 L606.54,338.72 L607.42,338.31 L608.30,337.89 L609.18,337.48 L610.06,337.07 L610.94,336.66 L611.82,336.25 L612.69,335.84 L613.57,335.44 L614.45,335.03 L615.33,334.62 L616.21,334.21 L617.09,333.80 L617.97,333.40 L618.85,332.99 L619.73,332.59 L620.61,332.18 L621.49,331.78 L622.36,331.37 L623.24,330.97 L624.12,330.56 L625.00,330.16 L625.88,329.76 L626.76,329.36 L627.64,328.95 L628.52,328.55 L629.40,328.15 L630.28,327.75 L631.16,327.35 L632.03,326.95 L632.91,326.55 L633.79,326.15 L634.67,325.75 L635.55,325.36 L636.43,324.96 L637.31,324.56 L638.19,324.17 L639.07,323.77 L639.95,323.37 L640.83,322.98 L641.70,322.58 L642.58,322.19 L643.46,321.80 L644.34,321.40 L645.22,321.01 L646.10,320.62 L646.98,320.22 L647.86,319.83 L648.74,319.44 L649.62,319.05 L650.49,318.66 L651.37,318.27 L652.25,317.88 L653.13,317.49 L654.01,317.10 L654.89,316.71 L655.77,316.33 L656.65,315.94 L657.53,315.55 L658.41,315.16 L659.29,314.78 L660.16,314.39 L661.04,314.01 L661.92,313.62 L662.80,313.24 L663.68,312.85 L664.56,312.47 L665.44,312.09 L666.32,311.70 L667.20,311.32 L668.08,310.94 L668.96,310.56 L669.83,310.18 L670.71,309.80 L671.59,309.42 L672.47,309.04 L673.35,308.66 L674.23,308.28 L675.11,307.90 L675.99,307.52 L676.87,307.14 L677.75,306.77 L678.63,306.39 L679.50,306.01 L680.38,305.64 L681.26,305.26 L682.14,304.89 L683.02,304.51 L683.90,304.14 L684.78,303.76 L685.66,303.39 L686.54,303.02 L687.42,302.64 L688.30,302.27 L689.17,301.90 L690.05,301.53 L690.93,301.16 L691.81,300.79 L692.69,300.42 L693.57,300.05 L694.45,299.68 L695.33,299.31 L696.21,298.94 L697.09,298.57 L697.96,298.21 L698.84,297.84 L699.72,297.47 L700.60,297.10 L701.48,296.74 L702.36,296.37 L703.24,296.01 L704.12,295.64 L705.00,295.28 L705.88,294.92 L706.76,294.55 L707.63,294.19 L708.51,293.83 L709.39,293.46 L710.27,293.10 L711.15,292.74 L712.03,292.38 L712.91,292.02 L713.79,291.66 L714.67,291.30 L715.55,290.94 L716.43,290.58 L717.30,290.22 L718.18,289.86 L719.06,289.51 L719.94,289.15 L720.82,288.79 L721.70,288.44 L722.58,288.08 L723.46,287.72 L724.34,287.37 L725.22,287.01 L726.10,286.66 L726.97,286.31 L727.85,285.95 L728.73,285.60 L729.61,285.25 L730.49,284.89 L731.37,284.54 L732.25,284.19 L733.13,283.84 L734.01,283.49 L734.89,283.14 L735.77,282.79 L736.64,282.44 L737.52,282.09 L738.40,281.74 L739.28,281.39 L740.16,281.04 L741.04,280.70 L741.92,280.35 L742.80,280.00 L743.68,279.65 L744.56,279.31 L745.43,278.96 L746.31,278.62 L747.19,278.27 L748.07,277.93 L748.95,277.59 L749.83,277.24 L750.71,276.90 L751.59,276.56 L752.47,276.21 L753.35,275.87 L754.23,275.53 L755.10,275.19 L755.98,274.85 L756.86,274.51 L757.74,274.17 L758.62,273.83 L759.50,273.49" stroke="#e51e10" stroke-width="1.90"/>
<path d="M408.75,435.03 L409.63,434.50 L410.51,433.98 L411.39,433.45 L412.27,432.92 L413.15,432.39 L414.02,431.86 L414.90,431.34 L415.78,430.81 L416.66,430.29 L417.54,429.76 L418.42,429.24 L419.30,428.71 L420.18,428.19 L421.06,427.67 L421.94,427.14 L422.82,426.62 L423.69,426.10 L424.57,425.58 L425.45,425.06 L426.33,424.54 L427.21,424.02 L428.09,423.50 L428.97,422.98 L429.85,422.46 L430.73,421.95 L431.61,421.43 L432.48,420.91 L433.36,420.40 L434.24,419.88 L435.12,419.37 L436.00,418.85 L436.88,418.34 L437.76,417.82 L438.64,417.31 L439.52,416.80 L440.40,416.29 L441.28,415.78 L442.15,415.26 L443.03,414.75 L443.91,414.24 L444.79,413.73 L445.67,413.23 L446.55,412.72 L447.43,412.21 L448.31,411.70 L449.19,411.19 L450.07,410.69 L450.95,410.18 L451.82,409.68 L452.70,409.17 L453.58,408.67 L454.46,408.16 L455.34,407.66 L456.22,407.16 L457.10,406.65 L457.98,406.15 L458.86,405.65 L459.74,405.15 L460.62,404.65 L461.49,404.15 L462.37,403.65 L463.25,403.15 L464.13,402.65 L465.01,402.15 L465.89,401.65 L466.77,401.16 L467.65,400.66 L468.53,400.16 L469.41,399.67 L470.29,399.17 L471.16,398.68 L472.04,398.18 L472.92,397.69 L473.80,397.20 L474.68,396.70 L475.56,396.21 L476.44,395.72 L477.32,395.23 L478.20,394.74 L479.08,394.25 L479.95,393.76 L480.83,393.27 L481.71,392.78 L482.59,392.29 L483.47,391.80 L484.35,391.32 L485.23,390.83 L486.11,390.34 L486.99,389.86 L487.87,389.37 L488.75,388.89 L489.62,388.40 L490.50,387.92 L491.38,387.43 L492.26,386.95 L493.14,386.47 L494.02,385.99 L494.90,385.50 L495.78,385.02 L496.66,384.54 L497.54,384.06 L498.42,383.58 L499.29,383.10 L500.17,382.62 L501.05,382.15 L501.93,381.67 L502.81,381.19 L503.69,380.71 L504.57,380.24 L505.45,379.76 L506.33,379.29 L507.21,378.81 L508.09,378.34 L508.96,377.86 L509.84,377.39 L510.72,376.92 L511.60,376.44 L512.48,375.97 L513.36,375.50 L514.24,375.03 L515.12,374.56 L516.00,374.09 L516.88,373.62 L517.76,373.15 L518.63,372.68 L519.51,372.21 L520.39,371.74 L521.27,371.28 L522.15,370.81 L523.03,370.34 L523.91,369.88 L524.79,369.41 L525.67,368.95 L526.55,368.48 L527.42,368.02 L528.30,367.55 L529.18,367.09 L530.06,366.63 L530.94,366.17 L531.82,365.70 L532.70,365.24 L533.58,364.78 L534.46,364.32 L535.34,363.86 L536.22,363.40 L537.09,362.94 L537.97,362.49 L538.85,362.03 L539.73,361.57 L540.61,361.11 L541.49,360.66 L542.37,360.20 L543.25,359.74 L544.13,359.29 L545.01,358.83 L545.89,358.38 L546.76,357.93 L547.64,357.47 L548.52,357.02 L549.40,356.57 L550.28,356.12 L551.16,355.66 L552.04,355.21 L552.92,354.76 L553.80,354.31 L554.68,353.86 L555.56,353.41 L556.43,352.97 L557.31,352.52 L558.19,352.07 L559.07,351.62 L559.95,351.18 L560.83,350.73 L561.71,350.28 L562.59,349.84 L563.47,349.39 L564.35,348.95 L565.22,348.50 L566.10,348.06 L566.98,347.62 L567.86,347.17 L568.74,346.73 L569.62,346.29 L570.50,345.85 L571.38,345.41 L572.26,344.97 L573.14,344.53 L574.02,344.09 L574.89,343.65 L575.77,343.21 L576.65,342.77 L577.53,342.33 L578.41,341.90 L579.29,341.46 L580.17,341.02 L581.05,340.59 L581.93,340.15 L582.81,339.72 L583.69,339.28 L584.56,338.85 L585.44,338.42 L586.32,337.98 L587.20,337.55 L588.08,337.12 L588.96,336.69 L589.84,336.25 L590.72,335.82 L591.60,335.39 L592.48,334.96 L593.36,334.53 L594.23,334.10 L595.11,333.68 L595.99,333.25 L596.87,332.82 L597.75,332.39 L598.63,331.97 L599.51,331.54 L600.39,331.11 L601.27,330.69 L602.15,330.26 L603.03,329.84 L603.90,329.41 L604.78,328.99 L605.66,328.57 L606.54,328.15 L607.42,327.72 L608.30,327.30 L609.18,326.88 L610.06,326.46 L610.94,326.04 L611.82,325.62 L612.69,325.20 L613.57,324.78 L614.45,324.36 L615.33,323.94 L616.21,323.52 L617.09,323.11 L617.97,322.69 L618.85,322.27 L619.73,321.86 L620.61,321.44 L621.49,321.03 L622.36,320.61 L623.24,320.20 L624.12,319.78 L625.00,319.37 L625.88,318.96 L626.76,318.54 L627.64,318.13 L628.52,317.72 L629.40,317.31 L630.28,316.90 L631.16,316.49 L632.03,316.08 L632.91,315.67 L633.79,315.26 L634.67,314.85 L635.55,314.44 L636.43,314.03 L637.31,313.63 L638.19,313.22 L639.07,312.81 L639.95,312.41 L640.83,312.00 L641.70,311.60 L642.58,311.19 L643.46,310.79 L644.34,310.38 L645.22,309.98 L646.10,309.58 L646.98,309.18 L647.86,308.77 L648.74,308.37 L649.62,307.97 L650.49,307.57 L651.37,307.17 L652.25,306.77 L653.13,306.37 L654.01,305.97 L654.89,305.57 L655.77,305.17 L656.65,304.78 L657.53,304.38 L658.41,303.98 L659.29,303.59 L660.16,303.19 L661.04,302.79 L661.92,302.40 L662.80,302.00 L663.68,301.61 L664.56,301.22 L665.44,300.82 L666.32,300.43 L667.20,300.04 L668.08,299.65 L668.96,299.25 L669.83,298.86 L670.71,298.47 L671.59,298.08 L672.47,297.69 L673.35,297.30 L674.23,296.91 L675.11,296.52 L675.99,296.14 L676.87,295.75 L677.75,295.36 L678.63,294.97 L679.50,294.59 L680.38,294.20 L681.26,293.81 L682.14,293.43 L683.02,293.04 L683.90,292.66 L684.78,292.28 L685.66,291.89 L686.54,291.51 L687.42,291.13 L688.30,290.74 L689.17,290.36 L690.05,289.98 L690.93,289.60 L691.81,289.22 L692.69,288.84 L693.57,288.46 L694.45,288.08 L695.33,287.70 L696.21,287.32 L697.09,286.94 L697.96,286.57 L698.84,286.19 L699.72,285.81 L700.60,285.44 L701.48,285.06 L702.36,284.68 L703.24,284.31 L704.12,283.93 L705.00,283.56 L705.88,283.19 L706.76,282.81 L707.63,282.44 L708.51,282.07 L709.39,281.69 L710.27,281.32 L711.15,280.95 L712.03,280.58 L712.91,280.21 L713.79,279.84 L714.67,279.47 L715.55,279.10 L716.43,278.73 L717.30,278.36 L718.18,277.99 L719.06,277.63 L719.94,277.26 L720.82,276.89 L721.70,276.53 L722.58,276.16 L723.46,275.79 L724.34,275.43 L725.22,275.06 L726.10,274.70 L726.97,274.33 L727.85,273.97 L728.73,273.61 L729.61,273.25 L730.49,272.88 L731.37,272.52 L732.25,272.16 L733.13,271.80 L734.01,271.44 L734.89,271.08 L735.77,270.72 L736.64,270.36 L737.52,270.00 L738.40,269.64 L739.28,269.28 L740.16,268.92 L741.04,268.57 L741.92,268.21 L742.80,267.85 L743.68,267.50 L744.56,267.14 L745.43,266.78 L746.31,266.43 L747.19,266.08 L748.07,265.72 L748.95,265.37 L749.83,265.01 L750.71,264.66 L751.59,264.31 L752.47,263.96 L753.35,263.60 L754.23,263.25 L755.10,262.90 L755.98,262.55 L756.86,262.20 L757.74,261.85 L758.62,261.50 L759.50,261.15" stroke="#e51e10" stroke-width="1.25" stroke-dasharray="5.9 8.8"/>
<path d="M408.75,422.03 L409.63,421.50 L410.51,420.97 L411.39,420.44 L412.27,419.91 L413.15,419.39 L414.02,418.86 L414.90,418.33 L415.78,417.80 L416.66,417.28 L417.54,416.75 L418.42,416.23 L419.30,415.70 L420.18,415.18 L421.06,414.65 L421.94,414.13 L422.82,413.60 L423.69,413.08 L424.57,412.56 L425.45,412.04 L426.33,411.51 L427.21,410.99 L428.09,410.47 L428.97,409.95 L429.85,409.43 L430.73,408.91 L431.61,408.39 L432.48,407.87 L433.36,407.35 L434.24,406.84 L435.12,406.32 L436.00,405.80 L436.88,405.28 L437.76,404.77 L438.64,404.25 L439.52,403.73 L440.40,403.22 L441.28,402.70 L442.15,402.19 L443.03,401.67 L443.91,401.16 L444.79,400.65 L445.67,400.13 L446.55,399.62 L447.43,399.11 L448.31,398.60 L449.19,398.09 L450.07,397.58 L450.95,397.07 L451.82,396.56 L452.70,396.05 L453.58,395.54 L454.46,395.03 L455.34,394.52 L456.22,394.01 L457.10,393.50 L457.98,393.00 L458.86,392.49 L459.74,391.98 L460.62,391.48 L461.49,390.97 L462.37,390.47 L463.25,389.96 L464.13,389.46 L465.01,388.95 L465.89,388.45 L466.77,387.95 L467.65,387.44 L468.53,386.94 L469.41,386.44 L470.29,385.94 L471.16,385.44 L472.04,384.94 L472.92,384.44 L473.80,383.94 L474.68,383.44 L475.56,382.94 L476.44,382.44 L477.32,381.94 L478.20,381.44 L479.08,380.94 L479.95,380.45 L480.83,379.95 L481.71,379.45 L482.59,378.96 L483.47,378.46 L484.35,377.97 L485.23,377.47 L486.11,376.98 L486.99,376.49 L487.87,375.99 L488.75,375.50 L489.62,375.01 L490.50,374.51 L491.38,374.02 L492.26,373.53 L493.14,373.04 L494.02,372.55 L494.90,372.06 L495.78,371.57 L496.66,371.08 L497.54,370.59 L498.42,370.10 L499.29,369.62 L500.17,369.13 L501.05,368.64 L501.93,368.15 L502.81,367.67 L503.69,367.18 L504.57,366.70 L505.45,366.21 L506.33,365.73 L507.21,365.24 L508.09,364.76 L508.96,364.27 L509.84,363.79 L510.72,363.31 L511.60,362.83 L512.48,362.34 L513.36,361.86 L514.24,361.38 L515.12,360.90 L516.00,360.42 L516.88,359.94 L517.76,359.46 L518.63,358.98 L519.51,358.50 L520.39,358.03 L521.27,357.55 L522.15,357.07 L523.03,356.59 L523.91,356.12 L524.79,355.64 L525.67,355.16 L526.55,354.69 L527.42,354.21 L528.30,353.74 L529.18,353.27 L530.06,352.79 L530.94,352.32 L531.82,351.85 L532.70,351.37 L533.58,350.90 L534.46,350.43 L535.34,349.96 L536.22,349.49 L537.09,349.02 L537.97,348.55 L538.85,348.08 L539.73,347.61 L540.61,347.14 L541.49,346.67 L542.37,346.20 L543.25,345.73 L544.13,345.27 L545.01,344.80 L545.89,344.33 L546.76,343.87 L547.64,343.40 L548.52,342.94 L549.40,342.47 L550.28,342.01 L551.16,341.54 L552.04,341.08 L552.92,340.62 L553.80,340.16 L554.68,339.69 L555.56,339.23 L556.43,338.77 L557.31,338.31 L558.19,337.85 L559.07,337.39 L559.95,336.93 L560.83,336.47 L561.71,336.01 L562.59,335.55 L563.47,335.09 L564.35,334.64 L565.22,334.18 L566.10,333.72 L566.98,333.26 L567.86,332.81 L568.74,332.35 L569.62,331.90 L570.50,331.44 L571.38,330.99 L572.26,330.53 L573.14,330.08 L574.02,329.63 L574.89,329.17 L575.77,328.72 L576.65,328.27 L577.53,327.82 L578.41,327.37 L579.29,326.92 L580.17,326.47 L581.05,326.02 L581.93,325.57 L582.81,325.12 L583.69,324.67 L584.56,324.22 L585.44,323.77 L586.32,323.32 L587.20,322.88 L588.08,322.43 L588.96,321.98 L589.84,321.54 L590.72,321.09 L591.60,320.65 L592.48,320.20 L593.36,319.76 L594.23,319.31 L595.11,318.87 L595.99,318.43 L596.87,317.99 L597.75,317.54 L598.63,317.10 L599.51,316.66 L600.39,316.22 L601.27,315.78 L602.15,315.34 L603.03,314.90 L603.90,314.46 L604.78,314.02 L605.66,313.58 L606.54,313.14 L607.42,312.71 L608.30,312.27 L609.18,311.83 L610.06,311.40 L610.94,310.96 L611.82,310.52 L612.69,310.09 L613.57,309.65 L614.45,309.22 L615.33,308.79 L616.21,308.35 L617.09,307.92 L617.97,307.49 L618.85,307.05 L619.73,306.62 L620.61,306.19 L621.49,305.76 L622.36,305.33 L623.24,304.90 L624.12,304.47 L625.00,304.04 L625.88,303.61 L626.76,303.18 L627.64,302.75 L628.52,302.32 L629.40,301.90 L630.28,301.47 L631.16,301.04 L632.03,300.62 L632.91,300.19 L633.79,299.77 L634.67,299.34 L635.55,298.92 L636.43,298.49 L637.31,298.07 L638.19,297.64 L639.07,297.22 L639.95,296.80 L640.83,296.38 L641.70,295.96 L642.58,295.53 L643.46,295.11 L644.34,294.69 L645.22,294.27 L646.10,293.85 L646.98,293.43 L647.86,293.02 L648.74,292.60 L649.62,292.18 L650.49,291.76 L651.37,291.34 L652.25,290.93 L653.13,290.51 L654.01,290.09 L654.89,289.68 L655.77,289.26 L656.65,288.85 L657.53,288.44 L658.41,288.02 L659.29,287.61 L660.16,287.19 L661.04,286.78 L661.92,286.37 L662.80,285.96 L663.68,285.55 L664.56,285.14 L665.44,284.72 L666.32,284.31 L667.20,283.90 L668.08,283.50 L668.96,283.09 L669.83,282.68 L670.71,282.27 L671.59,281.86 L672.47,281.45 L673.35,281.05 L674.23,280.64 L675.11,280.23 L675.99,279.83 L676.87,279.42 L677.75,279.02 L678.63,278.61 L679.50,278.21 L680.38,277.81 L681.26,277.40 L682.14,277.00 L683.02,276.60 L683.90,276.20 L684.78,275.79 L685.66,275.39 L686.54,274.99 L687.42,274.59 L688.30,274.19 L689.17,273.79 L690.05,273.39 L690.93,272.99 L691.81,272.60 L692.69,272.20 L693.57,271.80 L694.45,271.40 L695.33,271.01 L696.21,270.61 L697.09,270.22 L697.96,269.82 L698.84,269.42 L699.72,269.03 L700.60,268.64 L701.48,268.24 L702.36,267.85 L703.24,267.46 L704.12,267.06 L705.00,266.67 L705.88,266.28 L706.76,265.89 L707.63,265.50 L708.51,265.11 L709.39,264.72 L710.27,264.33 L711.15,263.94 L712.03,263.55 L712.91,263.16 L713.79,262.77 L714.67,262.38 L715.55,262.00 L716.43,261.61 L717.30,261.22 L718.18,260.84 L719.06,260.45 L719.94,260.07 L720.82,259.68 L721.70,259.30 L722.58,258.91 L723.46,258.53 L724.34,258.15 L725.22,257.76 L726.10,257.38 L726.97,257.00 L727.85,256.62 L728.73,256.24 L729.61,255.86 L730.49,255.48 L731.37,255.10 L732.25,254.72 L733.13,254.34 L734.01,253.96 L734.89,253.58 L735.77,253.20 L736.64,252.83 L737.52,252.45 L738.40,252.07 L739.28,251.70 L740.16,251.32 L741.04,250.95 L741.92,250.57 L742.80,250.20 L743.68,249.82 L744.56,249.45 L745.43,249.08 L746.31,248.70 L747.19,248.33 L748.07,247.96 L748.95,247.59 L749.83,247.22 L750.71,246.84 L751.59,246.47 L752.47,246.10 L753.35,245.73 L754.23,245.37 L755.10,245.00 L755.98,244.63 L756.86,244.26 L757.74,243.89 L758.62,243.53 L759.50,243.16" stroke="#009e73" stroke-width="1.25"/>
<path d="M408.75,435.88 L409.63,435.35 L410.51,434.82 L411.39,434.29 L412.27,433.76 L413.15,433.23 L414.02,432.70 L414.90,432.17 L415.78,431.65 L416.66,431.12 L417.54,430.59 L418.42,430.07 L419.30,429.54 L420.18,429.02 L421.06,428.49 L421.94,427.97 L422.82,427.44 L423.69,426.92 L424.57,426.40 L425.45,425.88 L426.33,425.35 L427.21,424.83 L428.09,424.31 L428.97,423.79 L429.85,423.27 L430.73,422.75 L431.61,422.23 L432.48,421.71 L433.36,421.19 L434.24,420.67 L435.12,420.15 L436.00,419.63 L436.88,419.12 L437.76,418.60 L438.64,418.08 L439.52,417.57 L440.40,417.05 L441.28,416.54 L442.15,416.02 L443.03,415.51 L443.91,414.99 L444.79,414.48 L445.67,413.97 L446.55,413.45 L447.43,412.94 L448.31,412.43 L449.19,411.92 L450.07,411.41 L450.95,410.90 L451.82,410.39 L452.70,409.88 L453.58,409.37 L454.46,408.86 L455.34,408.35 L456.22,407.84 L457.10,407.33 L457.98,406.82 L458.86,406.32 L459.74,405.81 L460.62,405.30 L461.49,404.80 L462.37,404.29 L463.25,403.79 L464.13,403.28 L465.01,402.78 L465.89,402.28 L466.77,401.77 L467.65,401.27 L468.53,400.77 L469.41,400.26 L470.29,399.76 L471.16,399.26 L472.04,398.76 L472.92,398.26 L473.80,397.76 L474.68,397.26 L475.56,396.76 L476.44,396.26 L477.32,395.76 L478.20,395.27 L479.08,394.77 L479.95,394.27 L480.83,393.77 L481.71,393.28 L482.59,392.78 L483.47,392.29 L484.35,391.79 L485.23,391.30 L486.11,390.80 L486.99,390.31 L487.87,389.81 L488.75,389.32 L489.62,388.83 L490.50,388.34 L491.38,387.84 L492.26,387.35 L493.14,386.86 L494.02,386.37 L494.90,385.88 L495.78,385.39 L496.66,384.90 L497.54,384.41 L498.42,383.92 L499.29,383.44 L500.17,382.95 L501.05,382.46 L501.93,381.97 L502.81,381.49 L503.69,381.00 L504.57,380.52 L505.45,380.03 L506.33,379.55 L507.21,379.06 L508.09,378.58 L508.96,378.09 L509.84,377.61 L510.72,377.13 L511.60,376.65 L512.48,376.16 L513.36,375.68 L514.24,375.20 L515.12,374.72 L516.00,374.24 L516.88,373.76 L517.76,373.28 L518.63,372.80 L519.51,372.32 L520.39,371.84 L521.27,371.37 L522.15,370.89 L523.03,370.41 L523.91,369.94 L524.79,369.46 L525.67,368.98 L526.55,368.51 L527.42,368.03 L528.30,367.56 L529.18,367.08 L530.06,366.61 L530.94,366.14 L531.82,365.66 L532.70,365.19 L533.58,364.72 L534.46,364.25 L535.34,363.78 L536.22,363.31 L537.09,362.84 L537.97,362.37 L538.85,361.90 L539.73,361.43 L540.61,360.96 L541.49,360.49 L542.37,360.02 L543.25,359.55 L544.13,359.09 L545.01,358.62 L545.89,358.15 L546.76,357.69 L547.64,357.22 L548.52,356.76 L549.40,356.29 L550.28,355.83 L551.16,355.36 L552.04,354.90 L552.92,354.44 L553.80,353.98 L554.68,353.51 L555.56,353.05 L556.43,352.59 L557.31,352.13 L558.19,351.67 L559.07,351.21 L559.95,350.75 L560.83,350.29 L561.71,349.83 L562.59,349.37 L563.47,348.91 L564.35,348.46 L565.22,348.00 L566.10,347.54 L566.98,347.09 L567.86,346.63 L568.74,346.17 L569.62,345.72 L570.50,345.26 L571.38,344.81 L572.26,344.36 L573.14,343.90 L574.02,343.45 L574.89,343.00 L575.77,342.54 L576.65,342.09 L577.53,341.64 L578.41,341.19 L579.29,340.74 L580.17,340.29 L581.05,339.84 L581.93,339.39 L582.81,338.94 L583.69,338.49 L584.56,338.04 L585.44,337.60 L586.32,337.15 L587.20,336.70 L588.08,336.25 L588.96,335.81 L589.84,335.36 L590.72,334.92 L591.60,334.47 L592.48,334.03 L593.36,333.58 L594.23,333.14 L595.11,332.70 L595.99,332.25 L596.87,331.81 L597.75,331.37 L598.63,330.93 L599.51,330.49 L600.39,330.05 L601.27,329.60 L602.15,329.16 L603.03,328.73 L603.90,328.29 L604.78,327.85 L605.66,327.41 L606.54,326.97 L607.42,326.53 L608.30,326.10 L609.18,325.66 L610.06,325.22 L610.94,324.79 L611.82,324.35 L612.69,323.92 L613.57,323.48 L614.45,323.05 L615.33,322.61 L616.21,322.18 L617.09,321.75 L617.97,321.32 L618.85,320.88 L619.73,320.45 L620.61,320.02 L621.49,319.59 L622.36,319.16 L623.24,318.73 L624.12,318.30 L625.00,317.87 L625.88,317.44 L626.76,317.01 L627.64,316.58 L628.52,316.16 L629.40,315.73 L630.28,315.30 L631.16,314.88 L632.03,314.45 L632.91,314.02 L633.79,313.60 L634.67,313.17 L635.55,312.75 L636.43,312.33 L637.31,311.90 L638.19,311.48 L639.07,311.06 L639.95,310.63 L640.83,310.21 L641.70,309.79 L642.58,309.37 L643.46,308.95 L644.34,308.53 L645.22,308.11 L646.10,307.69 L646.98,307.27 L647.86,306.85 L648.74,306.43 L649.62,306.02 L650.49,305.60 L651.37,305.18 L652.25,304.77 L653.13,304.35 L654.01,303.93 L654.89,303.52 L655.77,303.10 L656.65,302.69 L657.53,302.27 L658.41,301.86 L659.29,301.45 L660.16,301.03 L661.04,300.62 L661.92,300.21 L662.80,299.80 L663.68,299.39 L664.56,298.98 L665.44,298.57 L666.32,298.16 L667.20,297.75 L668.08,297.34 L668.96,296.93 L669.83,296.52 L670.71,296.11 L671.59,295.71 L672.47,295.30 L673.35,294.89 L674.23,294.49 L675.11,294.08 L675.99,293.67 L676.87,293.27 L677.75,292.86 L678.63,292.46 L679.50,292.06 L680.38,291.65 L681.26,291.25 L682.14,290.85 L683.02,290.45 L683.90,290.04 L684.78,289.64 L685.66,289.24 L686.54,288.84 L687.42,288.44 L688.30,288.04 L689.17,287.64 L690.05,287.24 L690.93,286.84 L691.81,286.45 L692.69,286.05 L693.57,285.65 L694.45,285.25 L695.33,284.86 L696.21,284.46 L697.09,284.07 L697.96,283.67 L698.84,283.28 L699.72,282.88 L700.60,282.49 L701.48,282.10 L702.36,281.70 L703.24,281.31 L704.12,280.92 L705.00,280.53 L705.88,280.13 L706.76,279.74 L707.63,279.35 L708.51,278.96 L709.39,278.57 L710.27,278.18 L711.15,277.79 L712.03,277.41 L712.91,277.02 L713.79,276.63 L714.67,276.24 L715.55,275.86 L716.43,275.47 L717.30,275.08 L718.18,274.70 L719.06,274.31 L719.94,273.93 L720.82,273.54 L721.70,273.16 L722.58,272.77 L723.46,272.39 L724.34,272.01 L725.22,271.63 L726.10,271.24 L726.97,270.86 L727.85,270.48 L728.73,270.10 L729.61,269.72 L730.49,269.34 L731.37,268.96 L732.25,268.58 L733.13,268.20 L734.01,267.83 L734.89,267.45 L735.77,267.07 L736.64,266.69 L737.52,266.32 L738.40,265.94 L739.28,265.56 L740.16,265.19 L741.04,264.81 L741.92,264.44 L742.80,264.07 L743.68,263.69 L744.56,263.32 L745.43,262.95 L746.31,262.57 L747.19,262.20 L748.07,261.83 L748.95,261.46 L749.83,261.09 L750.71,260.72 L751.59,260.35 L752.47,259.98 L753.35,259.61 L754.23,259.24 L755.10,258.87 L755.98,258.50 L756.86,258.13 L757.74,257.77 L758.62,257.40 L759.50,257.03" stroke="#9400d3" stroke-width="1.25"/>
<path d="M408.75,449.40 L409.63,448.88 L410.51,448.35 L411.39,447.83 L412.27,447.31 L413.15,446.78 L414.02,446.26 L414.90,445.74 L415.78,445.22 L416.66,444.70 L417.54,444.17 L418.42,443.65 L419.30,443.13 L420.18,442.61 L421.06,442.09 L421.94,441.57 L422.82,441.06 L423.69,440.54 L424.57,440.02 L425.45,439.50 L426.33,438.98 L427.21,438.47 L428.09,437.95 L428.97,437.43 L429.85,436.92 L430.73,436.40 L431.61,435.89 L432.48,435.37 L433.36,434.86 L434.24,434.34 L435.12,433.83 L436.00,433.31 L436.88,432.80 L437.76,432.29 L438.64,431.78 L439.52,431.26 L440.40,430.75 L441.28,430.24 L442.15,429.73 L443.03,429.22 L443.91,428.71 L444.79,428.20 L445.67,427.69 L446.55,427.18 L447.43,426.67 L448.31,426.16 L449.19,425.65 L450.07,425.15 L450.95,424.64 L451.82,424.13 L452.70,423.62 L453.58,423.12 L454.46,422.61 L455.34,422.11 L456.22,421.60 L457.10,421.10 L457.98,420.59 L458.86,420.09 L459.74,419.58 L460.62,419.08 L461.49,418.58 L462.37,418.08 L463.25,417.57 L464.13,417.07 L465.01,416.57 L465.89,416.07 L466.77,415.57 L467.65,415.07 L468.53,414.57 L469.41,414.07 L470.29,413.57 L471.16,413.07 L472.04,412.57 L472.92,412.07 L473.80,411.57 L474.68,411.08 L475.56,410.58 L476.44,410.08 L477.32,409.59 L478.20,409.09 L479.08,408.60 L479.95,408.10 L480.83,407.61 L481.71,407.11 L482.59,406.62 L483.47,406.12 L484.35,405.63 L485.23,405.14 L486.11,404.65 L486.99,404.15 L487.87,403.66 L488.75,403.17 L489.62,402.68 L490.50,402.19 L491.38,401.70 L492.26,401.21 L493.14,400.72 L494.02,400.23 L494.90,399.74 L495.78,399.25 L496.66,398.77 L497.54,398.28 L498.42,397.79 L499.29,397.30 L500.17,396.82 L501.05,396.33 L501.93,395.84 L502.81,395.36 L503.69,394.87 L504.57,394.39 L505.45,393.90 L506.33,393.41 L507.21,392.93 L508.09,392.45 L508.96,391.96 L509.84,391.48 L510.72,390.99 L511.60,390.51 L512.48,390.03 L513.36,389.54 L514.24,389.06 L515.12,388.58 L516.00,388.10 L516.88,387.62 L517.76,387.13 L518.63,386.65 L519.51,386.17 L520.39,385.69 L521.27,385.21 L522.15,384.73 L523.03,384.25 L523.91,383.77 L524.79,383.30 L525.67,382.82 L526.55,382.34 L527.42,381.86 L528.30,381.38 L529.18,380.91 L530.06,380.43 L530.94,379.95 L531.82,379.48 L532.70,379.00 L533.58,378.53 L534.46,378.05 L535.34,377.58 L536.22,377.11 L537.09,376.63 L537.97,376.16 L538.85,375.69 L539.73,375.21 L540.61,374.74 L541.49,374.27 L542.37,373.80 L543.25,373.33 L544.13,372.86 L545.01,372.39 L545.89,371.92 L546.76,371.45 L547.64,370.98 L548.52,370.51 L549.40,370.04 L550.28,369.58 L551.16,369.11 L552.04,368.64 L552.92,368.18 L553.80,367.71 L554.68,367.25 L555.56,366.78 L556.43,366.32 L557.31,365.85 L558.19,365.39 L559.07,364.93 L559.95,364.47 L560.83,364.00 L561.71,363.54 L562.59,363.08 L563.47,362.62 L564.35,362.16 L565.22,361.70 L566.10,361.24 L566.98,360.79 L567.86,360.33 L568.74,359.87 L569.62,359.41 L570.50,358.96 L571.38,358.50 L572.26,358.05 L573.14,357.59 L574.02,357.14 L574.89,356.68 L575.77,356.23 L576.65,355.78 L577.53,355.33 L578.41,354.87 L579.29,354.42 L580.17,353.97 L581.05,353.52 L581.93,353.07 L582.81,352.63 L583.69,352.18 L584.56,351.73 L585.44,351.28 L586.32,350.84 L587.20,350.39 L588.08,349.94 L588.96,349.50 L589.84,349.05 L590.72,348.61 L591.60,348.16 L592.48,347.72 L593.36,347.27 L594.23,346.83 L595.11,346.39 L595.99,345.94 L596.87,345.50 L597.75,345.06 L598.63,344.62 L599.51,344.17 L600.39,343.73 L601.27,343.29 L602.15,342.85 L603.03,342.41 L603.90,341.97 L604.78,341.53 L605.66,341.09 L606.54,340.65 L607.42,340.22 L608.30,339.78 L609.18,339.34 L610.06,338.90 L610.94,338.47 L611.82,338.03 L612.69,337.60 L613.57,337.16 L614.45,336.72 L615.33,336.29 L616.21,335.86 L617.09,335.42 L617.97,334.99 L618.85,334.56 L619.73,334.12 L620.61,333.69 L621.49,333.26 L622.36,332.83 L623.24,332.40 L624.12,331.97 L625.00,331.54 L625.88,331.11 L626.76,330.68 L627.64,330.25 L628.52,329.82 L629.40,329.40 L630.28,328.97 L631.16,328.54 L632.03,328.12 L632.91,327.69 L633.79,327.27 L634.67,326.84 L635.55,326.42 L636.43,326.00 L637.31,325.57 L638.19,325.15 L639.07,324.73 L639.95,324.31 L640.83,323.89 L641.70,323.47 L642.58,323.05 L643.46,322.63 L644.34,322.21 L645.22,321.79 L646.10,321.37 L646.98,320.95 L647.86,320.54 L648.74,320.12 L649.62,319.70 L650.49,319.29 L651.37,318.87 L652.25,318.46 L653.13,318.05 L654.01,317.63 L654.89,317.22 L655.77,316.81 L656.65,316.40 L657.53,315.99 L658.41,315.58 L659.29,315.17 L660.16,314.76 L661.04,314.35 L661.92,313.94 L662.80,313.54 L663.68,313.13 L664.56,312.72 L665.44,312.32 L666.32,311.91 L667.20,311.51 L668.08,311.10 L668.96,310.70 L669.83,310.30 L670.71,309.90 L671.59,309.50 L672.47,309.10 L673.35,308.70 L674.23,308.30 L675.11,307.90 L675.99,307.50 L676.87,307.10 L677.75,306.70 L678.63,306.30 L679.50,305.90 L680.38,305.51 L681.26,305.11 L682.14,304.71 L683.02,304.32 L683.90,303.92 L684.78,303.52 L685.66,303.13 L686.54,302.73 L687.42,302.34 L688.30,301.95 L689.17,301.55 L690.05,301.16 L690.93,300.77 L691.81,300.37 L692.69,299.98 L693.57,299.59 L694.45,299.20 L695.33,298.81 L696.21,298.42 L697.09,298.03 L697.96,297.64 L698.84,297.25 L699.72,296.86 L700.60,296.47 L701.48,296.08 L702.36,295.69 L703.24,295.30 L704.12,294.91 L705.00,294.53 L705.88,294.14 L706.76,293.75 L707.63,293.37 L708.51,292.98 L709.39,292.60 L710.27,292.21 L711.15,291.83 L712.03,291.44 L712.91,291.06 L713.79,290.67 L714.67,290.29 L715.55,289.91 L716.43,289.53 L717.30,289.14 L718.18,288.76 L719.06,288.38 L719.94,288.00 L720.82,287.62 L721.70,287.24 L722.58,286.86 L723.46,286.48 L724.34,286.10 L725.22,285.72 L726.10,285.34 L726.97,284.96 L727.85,284.58 L728.73,284.20 L729.61,283.83 L730.49,283.45 L731.37,283.07 L732.25,282.70 L733.13,282.32 L734.01,281.94 L734.89,281.57 L735.77,281.19 L736.64,280.82 L737.52,280.44 L738.40,280.07 L739.28,279.70 L740.16,279.32 L741.04,278.95 L741.92,278.58 L742.80,278.20 L743.68,277.83 L744.56,277.46 L745.43,277.09 L746.31,276.72 L747.19,276.35 L748.07,275.97 L748.95,275.60 L749.83,275.23 L750.71,274.87 L751.59,274.50 L752.47,274.13 L753.35,273.76 L754.23,273.39 L755.10,273.02 L755.98,272.65 L756.86,272.29 L757.74,271.92 L758.62,271.55 L759.50,271.19" stroke="#9400d3" stroke-width="1.25" stroke-dasharray="5.9 8.8"/>
<circle cx="452.59" cy="424.34" r="4.2" fill="#e51e10"/>
<circle cx="452.59" cy="432.30" r="4.2" fill="#e51e10"/>
<circle cx="496.44" cy="390.53" r="4.2" fill="#e51e10"/>
<circle cx="496.44" cy="394.51" r="4.2" fill="#e51e10"/>
<circle cx="496.44" cy="398.49" r="4.2" fill="#e51e10"/>
<circle cx="496.44" cy="402.47" r="4.2" fill="#e51e10"/>
<circle cx="540.28" cy="362.69" r="4.2" fill="#e51e10"/>
<circle cx="540.28" cy="369.06" r="4.2" fill="#e51e10"/>
<circle cx="540.28" cy="370.65" r="4.2" fill="#e51e10"/>
<circle cx="584.12" cy="330.87" r="4.2" fill="#e51e10"/>
<circle cx="584.12" cy="338.83" r="4.2" fill="#e51e10"/>
<circle cx="584.12" cy="346.78" r="4.2" fill="#e51e10"/>
<circle cx="601.66" cy="330.87" r="4.2" fill="#e51e10"/>
<circle cx="601.66" cy="342.81" r="4.2" fill="#e51e10"/>
<circle cx="601.66" cy="346.78" r="4.2" fill="#e51e10"/>
<circle cx="671.81" cy="303.03" r="4.2" fill="#e51e10"/>
<circle cx="671.81" cy="324.91" r="4.2" fill="#e51e10"/>
</g>
<rect x="408.75" y="220.70" width="350.75" height="228.70" fill="none" stroke="#000" stroke-width="1.5"/>
</svg></body></html>
